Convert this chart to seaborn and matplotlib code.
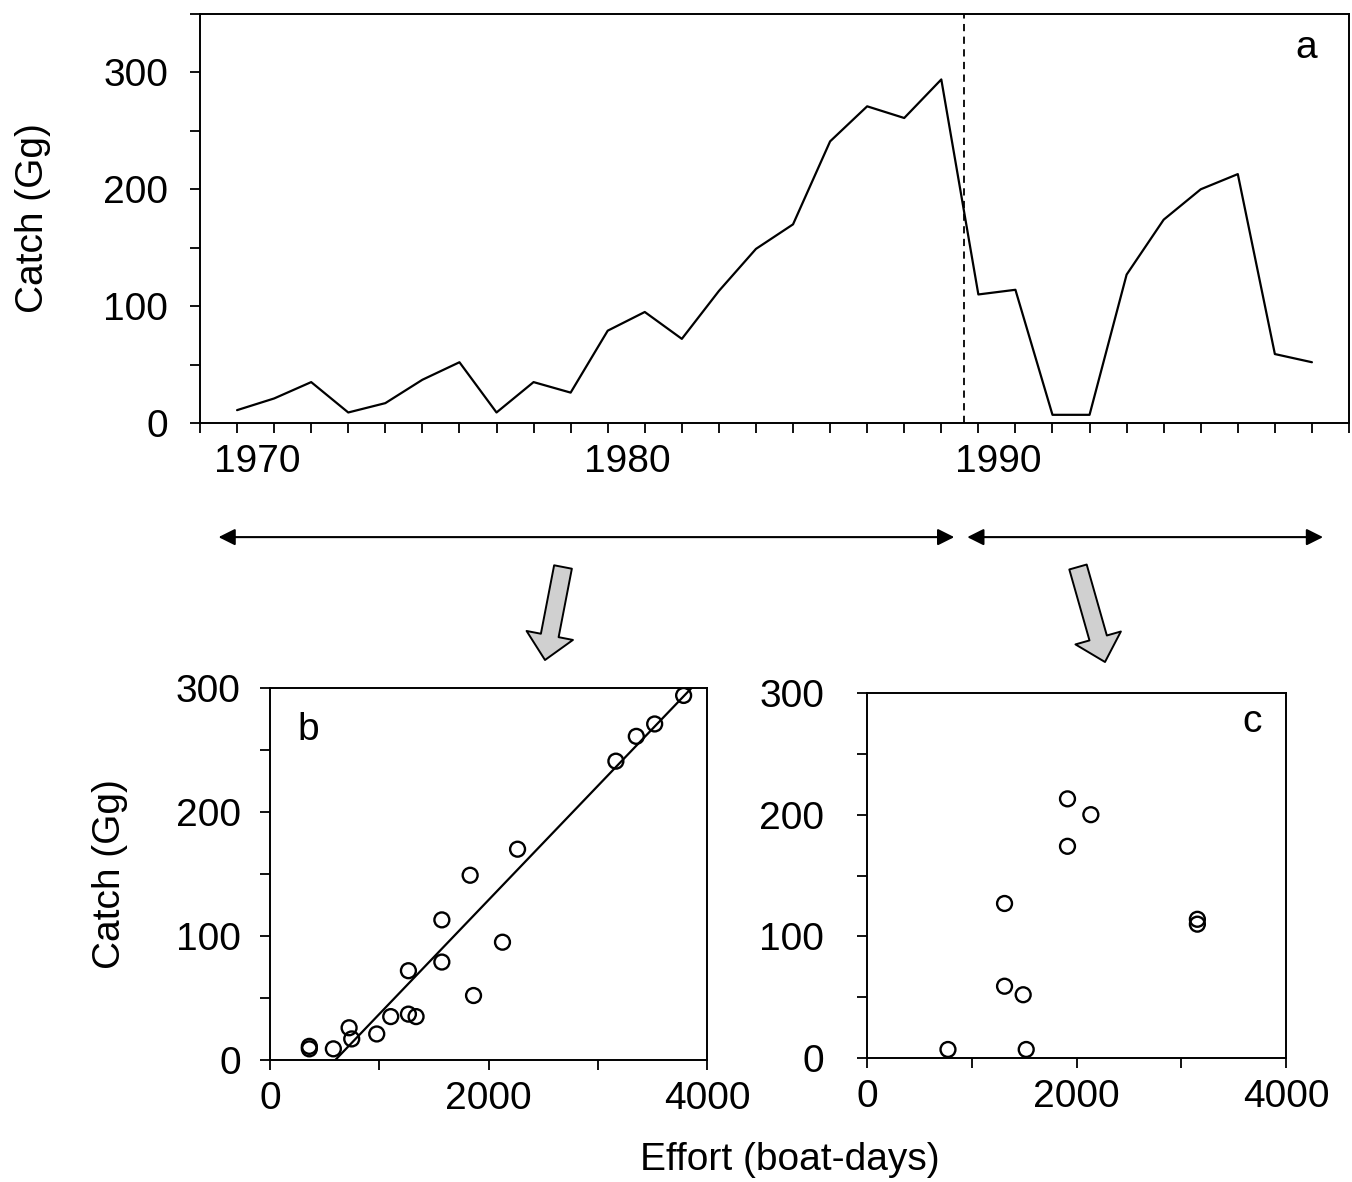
import numpy as np
import pandas as pd
import seaborn as sns
import matplotlib.pyplot as plt
from matplotlib.patches import FancyArrowPatch
from matplotlib.transforms import ScaledTranslation

# catch per year (Gg)
years = list(range(1970, 2000))
catch = [11, 21, 35, 9, 17, 37, 52, 9, 35, 26,
         79, 95, 72, 113, 149, 170, 241, 271, 261, 294,
         110, 114, 7, 7, 127, 174, 200, 213, 59, 52]
effort_early = [360, 977, 1105, 360, 748, 1267, 1863, 580, 1337, 724,
                1573, 2128, 1267, 1573, 1832, 2266, 3166, 3521, 3353, 3786]
effort_late = [3154, 3154, 1520, 773, 1313, 1914, 2137, 1914, 1313, 1491]

split_year = 1989.6
# regression line in panel b
fit_slope = 0.092
fit_intercept = -55

df = pd.DataFrame({'year': years, 'catch': catch})
df['effort'] = effort_early + effort_late
df['period'] = np.where(df['year'] <= 1989, 'early', 'late')

sns.set_style('ticks')
plt.rcParams['font.family'] = ['Liberation Sans', 'DejaVu Sans']
plt.rcParams['font.size'] = 28
plt.rcParams['axes.linewidth'] = 1.4
for k in ['text.color', 'axes.labelcolor', 'xtick.color', 'ytick.color', 'axes.edgecolor']:
    plt.rcParams[k] = 'black'

fig = plt.figure(figsize=(13.52, 11.82), dpi=100)
W, H = 1352, 1182

def box(l, t, r, b):
    return [l / W, 1 - b / H, (r - l) / W, (b - t) / H]

ax_a = fig.add_axes(box(200, 14, 1349, 423))
ax_b = fig.add_axes(box(270, 688, 707, 1060))
ax_c = fig.add_axes(box(867, 693, 1286, 1058))

# panel a: catch time series
sns.lineplot(data=df, x='year', y='catch', ax=ax_a, color='black', lw=1.6)
ax_a.axvline(split_year, color='black', lw=1.3, ls=(0, (4, 3)))
ax_a.set_xlim(1969, 2000)
ax_a.set_ylim(0, 350)
xt = list(range(1969, 2001))
ax_a.set_xticks(xt)
ax_a.set_xticklabels([str(y) if y in (1970, 1980, 1990) else '' for y in xt])
ax_a.set_yticks(range(0, 351, 50))
ax_a.set_yticklabels([str(v) if v % 100 == 0 and v <= 300 else '' for v in range(0, 351, 50)])
ax_a.tick_params(axis='x', length=7, width=1.3, pad=8)
ax_a.tick_params(axis='y', length=7, width=1.3, pad=16)
# year labels sit a little right of their ticks in the original
shift = ScaledTranslation(0.2, 0, fig.dpi_scale_trans)
for lab in ax_a.get_xticklabels():
    lab.set_transform(lab.get_transform() + shift)
ax_a.set_xlabel('')
ax_a.set_ylabel('Catch (Gg)')
ax_a.yaxis.set_label_coords(-0.13, 0.5)
ax_a.text(0.963, 0.917, 'a', transform=ax_a.transAxes, ha='center', va='center')

# period arrows under panel a
arrow_kw = dict(arrowstyle='<|-|>', color='black', lw=1.5, mutation_scale=25,
                shrinkA=0, shrinkB=0)
for x0, x1 in [(1969.5, 1989.35), (1989.7, 1999.3)]:
    ax_a.annotate('', xy=(x0, -0.279), xytext=(x1, -0.279),
                  xycoords=ax_a.get_xaxis_transform(), arrowprops=arrow_kw,
                  annotation_clip=False)

# grey block arrows pointing to panels b and c
block_kw = dict(arrowstyle='simple,head_length=0.9,head_width=1.7,tail_width=0.65',
                fc='#d0d0d0', ec='black', lw=1.4, mutation_scale=20,
                shrinkA=0, shrinkB=0)
for start, end in [((563, H - 567), (545, H - 660)), ((1078, H - 567), (1105, H - 662))]:
    fig.add_artist(FancyArrowPatch(start, end, transform=None, **block_kw))

# panel b: early period catch vs effort
early = df[df['period'] == 'early']
sns.scatterplot(data=early, x='effort', y='catch', ax=ax_b, marker='o', s=115,
                facecolor='none', edgecolor='black', linewidth=1.7)
fx = np.array([-fit_intercept / fit_slope, (300 - fit_intercept) / fit_slope])
sns.lineplot(x=fx, y=fit_slope * fx + fit_intercept, ax=ax_b, color='black', lw=1.6)
ax_b.text(0.087, 0.887, 'b', transform=ax_b.transAxes, ha='center', va='center')

# panel c: late period catch vs effort
late = df[df['period'] == 'late']
sns.scatterplot(data=late, x='effort', y='catch', ax=ax_c, marker='o', s=115,
                facecolor='none', edgecolor='black', linewidth=1.7)
ax_c.text(0.919, 0.92, 'c', transform=ax_c.transAxes, ha='center', va='center')

for ax, ypad in [(ax_b, 14), (ax_c, 24)]:
    ax.set_xlim(0, 4000)
    ax.set_ylim(0, 300)
    ax.set_xticks(range(0, 4001, 1000))
    ax.set_xticklabels([str(v) if v % 2000 == 0 else '' for v in range(0, 4001, 1000)])
    ax.set_yticks(range(0, 301, 50))
    ax.set_yticklabels([str(v) if v % 100 == 0 else '' for v in range(0, 301, 50)])
    ax.tick_params(axis='x', length=7, width=1.3, pad=8)
    ax.tick_params(axis='y', length=7, width=1.3, pad=ypad)
    ax.set_xlabel('')
    ax.set_ylabel('')
    if ax.get_legend():
        ax.get_legend().remove()

ax_b.set_ylabel('Catch (Gg)')
ax_b.yaxis.set_label_coords(-0.325, 0.5)

fig.text(790 / W, 22 / H, 'Effort (boat-days)', ha='center', va='center')

fig.savefig('out.png', dpi=100)
